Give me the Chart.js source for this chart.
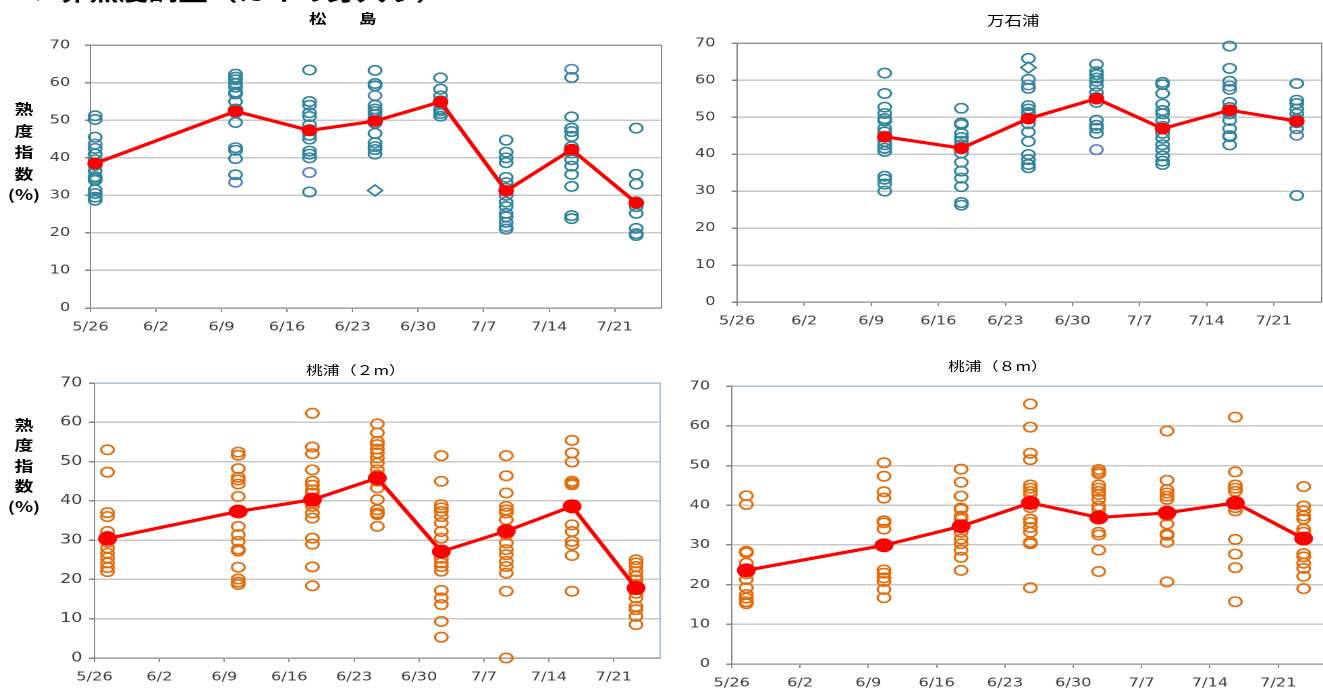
<!DOCTYPE html>
<html>
<head>
<meta charset="utf-8">
<script src="https://cdn.jsdelivr.net/npm/chart.js@4.4.1/dist/chart.umd.min.js"></script>
<style>
  html, body { margin: 0; padding: 0; background: #fff; overflow: hidden; width: 1323px; height: 691px; }
  /* the reference picture is stretched sideways, so the whole stage is too */
  #stage { position: absolute; left: 0; top: 0; width: 980px; height: 691px; transform: scaleX(1.35); transform-origin: 0 0; }
  #stage canvas { position: absolute; }
  .txt { position: absolute; white-space: nowrap; font-family: "Noto Sans CJK JP", sans-serif; color: #000; }
  .ylab { position: absolute; width: 40px; text-align: center; font: bold 14px "Noto Sans CJK JP", sans-serif; color: #000; }
</style>
</head>
<body>
<div id="stage">
  <div class="txt" style="left:0px; top:-21px; font-size:22px; line-height:22px; font-weight:bold;">６．卵熟度調査（カキの身入り）</div>
  <div class="txt" id="t1" style="font-size:13px; line-height:16px; font-weight:bold; letter-spacing:5.5px;">松　島</div>
  <div class="txt" id="t2" style="font-size:13px; line-height:16px;">万石浦</div>
  <div class="txt" id="t3" style="font-size:12.5px; line-height:16px;">桃浦（２m）</div>
  <div class="txt" id="t4" style="font-size:12.5px; line-height:16px;">桃浦（８m）</div>
  <div class="ylab" id="y1" style="line-height:21.5px;">熟<br>度<br>指<br>数<br>(%)</div>
  <div class="ylab" id="y3" style="line-height:20.5px;">熟<br>度<br>指<br>数<br>(%)</div>
</div>
<script>
const S = 1.35;

// x axis: days counted from 5/26
const tickDays = [0, 7, 14, 21, 28, 35, 42, 49, 56];
const tickLabels = ['5/26', '6/2', '6/9', '6/16', '6/23', '6/30', '7/7', '7/14', '7/21'];

// 松島
const matsushimaDays = [0.5, 15.5, 23.4, 30.4, 37.4, 44.4, 51.4, 58.3];
const matsushimaMean = [38.5, 52.4, 47.3, 49.8, 54.9, 31.2, 42.2, 28.0];
const matsushimaSamples = [
  [51.2, 50.2, 45.5, 42.5, 41, 39.5, 38, 36.5, 35, 34.5, 34, 31.5, 30.5, 29.5, 28.7],
  [62.3, 61.5, 60.8, 59.8, 58.8, 57.5, 57, 55, 53, 52, 49.4, 42.7, 42, 39.8, 35.5],
  [63.4, 55, 54, 52, 51, 48.8, 47.5, 46, 45, 41.8, 41, 40, 30.9],
  [63.3, 59.8, 59.2, 54, 53, 52.3, 51.5, 50.5, 49.2, 46.5, 44, 43, 42.2, 41],
  [61.3, 58.3, 56.5, 55.2, 54.6, 53, 52.5, 51.8, 51.1],
  [44.7, 41.5, 40, 38.7, 34.8, 33.4, 31.9, 30, 28.2, 27, 25.2, 24.3, 22.8, 21],
  [61.4, 50.9, 47.9, 47, 45.7, 43, 42, 41.3, 39.5, 37.8, 35.6, 32.4, 24.6, 23.8],
  [47.9, 35.6, 33, 28.3, 27, 25.2, 21.2, 19.8, 19.3]
];
const matsushimaBlue = [[43.7], [33.5], [36.1], [56.6], [], [21.7], [63.6], []];
const matsushimaDiamond = [[], [], [], [31.3], [], [], [], []];

// 万石浦
const mangokuuraDays = [15.4, 23.4, 30.4, 37.5, 44.4, 51.4, 58.4];
const mangokuuraMean = [44.7, 41.6, 49.6, 55.0, 46.9, 51.9, 48.9];
const mangokuuraSamples = [
  [61.9, 56.4, 52.7, 51, 49.6, 49, 47, 46, 43.4, 42.5, 41.6, 40.7, 34, 33.2, 31.9, 30],
  [52.4, 48.4, 48, 45.6, 44.5, 43.5, 42.5, 41.5, 40.3, 37.8, 35.4, 33.5, 31.2, 26.9, 26.2],
  [65.9, 60.2, 57.8, 53.1, 52.2, 51.3, 50.9, 49.5, 48.2, 46, 43.4, 39.9, 38.5, 37.2, 36.3],
  [64.3, 62.3, 61.5, 60.6, 59.7, 58.4, 56.6, 55.3, 54, 49.2, 47.8, 47, 45.6],
  [59.4, 58.8, 56.4, 53.5, 51.8, 50.9, 49.1, 47.5, 45.6, 44.3, 42.5, 41.2, 39.5, 38.1, 37.2],
  [69.2, 63.2, 59.7, 57.5, 54, 52.6, 51.5, 50.9, 49.1, 46.9, 45, 44.7, 42.5],
  [59.1, 54.6, 53.7, 52.2, 50.9, 49.5, 48.5, 46.9, 28.8]
];
const mangokuuraBlue = [[], [], [58.7], [41.2], [], [58.4], [45.1]];
const mangokuuraDiamond = [[], [], [63.4], [], [], [], []];

// 桃浦（２m）
const momo2Days = [1.4, 15.5, 23.5, 30.5, 37.4, 44.4, 51.5, 58.4];
const momo2Mean = [30.4, 37.3, 40.3, 45.8, 27.1, 32.3, 38.6, 17.8];
const momo2Samples = [
  [53, 47.3, 37, 36, 32.2, 31, 29.5, 28, 26.7, 25.5, 24.2, 23, 22],
  [52.4, 51.6, 48.2, 46, 45.3, 44.3, 41.1, 33.5, 31.4, 29.7, 27.7, 27.2, 23.1, 20.1, 19.3, 18.7],
  [62.3, 53.7, 52, 47.9, 45, 44, 42.8, 42, 40.7, 39.4, 38.6, 36.9, 35.6, 30.5, 29, 23.2, 18.4],
  [59.6, 57.3, 55.1, 54.3, 53.2, 52.2, 50.9, 49.6, 47.9, 46.6, 45, 43.3, 40.3, 37.7, 36.9, 36.5, 33.5],
  [51.5, 45, 39, 38.2, 37.3, 36, 34.4, 32.2, 30.5, 25.4, 24.2, 23.3, 22.1, 17.2, 15.3, 13.6, 9.3, 5.3],
  [51.5, 46.4, 42, 38.6, 37.7, 36.9, 35.2, 31.4, 29.3, 27.6, 26.3, 24.6, 23.3, 21.6, 17, 0],
  [55.4, 52.2, 49.9, 45, 44.5, 44.1, 38.6, 33.9, 32.2, 29.7, 28.8, 26.1, 17],
  [25, 24.2, 23.3, 22, 20.8, 19.9, 18.7, 16.5, 15.3, 13.1, 12.3, 10.6, 8.5]
];

// 桃浦（８m）
const momo8Days = [1.5, 15.6, 23.5, 30.6, 37.6, 44.6, 51.6, 58.6];
const momo8Mean = [23.6, 29.9, 34.7, 40.6, 36.9, 38.1, 40.6, 31.6];
const momo8Samples = [
  [42.4, 40.2, 28.4, 28, 25.4, 23.7, 22.7, 21.3, 19.2, 17.5, 16.6, 15.7, 15.2],
  [50.7, 47.3, 43.4, 41.8, 36.1, 35.6, 34, 29.9, 23.7, 22.9, 21.7, 20.8, 18.8, 16.7],
  [49.1, 45.8, 42.3, 39.3, 39, 37.3, 36.5, 34.8, 33.2, 31.5, 30.3, 28.7, 26.9, 23.6],
  [65.5, 59.7, 53.1, 51.5, 45.1, 44.3, 43.5, 42.7, 39.4, 36.5, 35.7, 34.4, 33.2, 30.7, 30.3, 19.2],
  [49, 48.4, 47.9, 45.1, 44.3, 43.5, 42.7, 41.5, 39.8, 39, 36.9, 33.2, 32.5, 28.7, 23.3],
  [58.7, 46.3, 43.9, 43.1, 42.3, 41.5, 37.3, 35.3, 32.8, 32.4, 30.7, 20.7],
  [62.2, 48.4, 45.1, 44.3, 43.5, 39.4, 38.6, 31.4, 27.7, 24.3, 15.7],
  [44.7, 39.8, 38.6, 37.3, 36.5, 34, 33.2, 27.8, 27, 25.4, 24.1, 22.1, 19]
];

const TEAL = '#31859C', BLUE = '#5B83C5', ORANGE = '#E46C0A', RED = '#FF0000';

// top and right edge of the plot area
const plotFrame = {
  id: 'plotFrame',
  beforeDatasetsDraw(chart, args, opts) {
    const { ctx, chartArea: a } = chart;
    ctx.save();
    ctx.strokeStyle = opts.color;
    ctx.lineWidth = 1;
    ctx.beginPath();
    ctx.moveTo(a.left, a.top);
    ctx.lineTo(a.right, a.top);
    ctx.lineTo(a.right, a.bottom);
    ctx.stroke();
    ctx.restore();
  }
};

function points(days, cols) {
  const out = [];
  cols.forEach((vals, i) => vals.forEach(v => out.push({ x: days[i], y: v })));
  return out;
}

function scatterSet(data, color, style, r) {
  return {
    type: 'scatter', data, pointStyle: style, pointRadius: r, pointHoverRadius: r,
    pointBorderColor: color, pointBackgroundColor: 'rgba(0,0,0,0)', pointBorderWidth: 1.6,
    showLine: false, clip: false
  };
}

function drawPanel(p) {
  const yW = 50, padTop = 14, padRight = 8, xH = 32;
  const [L, T, R, B] = p.box;
  const l = L / S, r = R / S;
  const cv = document.createElement('canvas');
  cv.width = Math.round(r - l + yW + padRight);
  cv.height = Math.round(B - T + padTop + xH);
  cv.style.left = (l - yW) + 'px';
  cv.style.top = (T - padTop) + 'px';
  document.getElementById('stage').appendChild(cv);

  const datasets = [{
    type: 'line',
    data: p.days.map((d, i) => ({ x: d, y: p.mean[i] })),
    borderColor: RED, borderWidth: 3.2, tension: 0,
    pointRadius: p.meanR, pointHoverRadius: p.meanR,
    pointBackgroundColor: RED, pointBorderColor: RED, pointBorderWidth: 1,
    clip: false
  }];
  datasets.push(scatterSet(points(p.days, p.samples), p.color, 'circle', 4.7));
  if (p.blue) datasets.push(scatterSet(points(p.days, p.blue), BLUE, 'circle', 4.7));
  if (p.diamond) datasets.push(scatterSet(points(p.days, p.diamond), p.color, 'rectRot', 5.5));

  new Chart(cv, {
    type: 'scatter',
    data: { datasets },
    plugins: [plotFrame],
    options: {
      responsive: false,
      animation: false,
      devicePixelRatio: 2,
      events: [],
      layout: { padding: { left: 0, top: padTop, right: padRight, bottom: 0 } },
      plugins: { legend: { display: false }, tooltip: { enabled: false }, plotFrame: { color: p.frame } },
      scales: {
        x: {
          type: 'linear', min: 0, max: 61,
          afterFit: s => { s.height = xH; },
          afterBuildTicks: s => { s.ticks = tickDays.map(v => ({ value: v })); },
          ticks: {
            autoSkip: false, maxRotation: 0, padding: 8, color: '#404040',
            font: { family: 'DejaVu Sans', size: 12 },
            callback: v => tickLabels[tickDays.indexOf(v)]
          },
          grid: { drawOnChartArea: false, drawTicks: true, tickLength: 4, color: '#868686' },
          border: { color: '#868686', width: 1 }
        },
        y: {
          min: 0, max: 70,
          afterFit: s => { s.width = yW; },
          ticks: { stepSize: 10, padding: p.yPad, color: '#404040', font: { family: 'DejaVu Sans', size: p.yFont } },
          grid: { color: '#C8C8C8', lineWidth: 1.5, tickColor: '#868686', tickLength: 4 },
          border: { color: '#868686', width: 1 }
        }
      }
    }
  });
}

drawPanel({ box: [90, 40.7, 661.7, 307.7], days: matsushimaDays, mean: matsushimaMean, samples: matsushimaSamples,
  blue: matsushimaBlue, diamond: matsushimaDiamond, color: TEAL, meanR: 5.3, frame: '#868686', yPad: 11, yFont: 12 });
drawPanel({ box: [736.7, 37.7, 1321.7, 302], days: mangokuuraDays, mean: mangokuuraMean, samples: mangokuuraSamples,
  blue: mangokuuraBlue, diamond: mangokuuraDiamond, color: TEAL, meanR: 5.3, frame: '#868686', yPad: 12, yFont: 12 });
drawPanel({ box: [94.3, 383.3, 660, 658.3], days: momo2Days, mean: momo2Mean, samples: momo2Samples,
  color: ORANGE, meanR: 6.5, frame: '#9DBBE0', yPad: 5, yFont: 13 });
drawPanel({ box: [732.3, 381, 1328.3, 664.3], days: momo8Days, mean: momo8Mean, samples: momo8Samples,
  color: ORANGE, meanR: 6.5, frame: '#9DBBE0', yPad: 12, yFont: 12 });

// titles and the stacked axis label, placed in screen pixels
function place(id, x, y) {
  const el = document.getElementById(id);
  el.style.left = (x / S) + 'px';
  el.style.top = y + 'px';
}
place('t1', 309, 9.5);
place('t2', 987, 11.5);
place('t3', 306, 361.8);
place('t4', 948, 357.8);
place('y1', 24 - 20 * S, 98.3);
place('y3', 24 - 20 * S, 413.8);
</script>
</body>
</html>
